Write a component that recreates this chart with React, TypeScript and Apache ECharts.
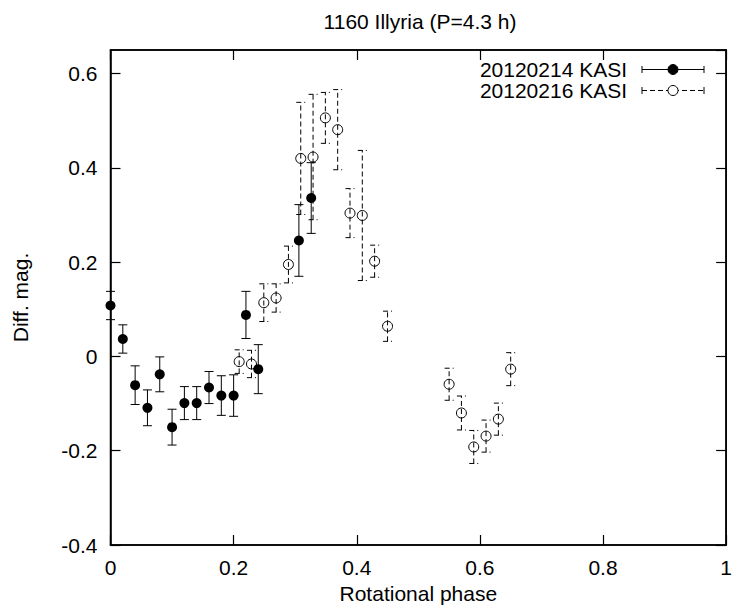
import React, { useEffect, useRef } from 'react';
import * as echarts from 'echarts';

// 20120214 KASI (filled circles, solid error bars)
const phase0214 = [0, 0.02, 0.04, 0.06, 0.08, 0.10, 0.12, 0.14, 0.16, 0.18, 0.20, 0.22, 0.24, 0.306, 0.326];
const mag0214 = [0.108, 0.037, -0.061, -0.109, -0.038, -0.150, -0.099, -0.099, -0.066, -0.083, -0.083, 0.088, -0.027, 0.246, 0.336];
const err0214 = [0.030, 0.030, 0.041, 0.038, 0.037, 0.038, 0.035, 0.035, 0.034, 0.042, 0.044, 0.050, 0.052, 0.076, 0.075];

// 20120216 KASI (open circles, dashed error bars)
const phase0216 = [0.209, 0.229, 0.249, 0.269, 0.289, 0.309, 0.329, 0.349, 0.369, 0.389, 0.409, 0.429, 0.450, 0.550, 0.570, 0.590, 0.610, 0.630, 0.650];
const mag0216 = [-0.011, -0.016, 0.114, 0.124, 0.195, 0.420, 0.423, 0.506, 0.481, 0.304, 0.299, 0.202, 0.064, -0.059, -0.120, -0.192, -0.169, -0.133, -0.027];
const err0216 = [0.025, 0.029, 0.040, 0.030, 0.039, 0.119, 0.133, 0.054, 0.085, 0.052, 0.138, 0.034, 0.032, 0.034, 0.036, 0.035, 0.034, 0.034, 0.035];

const seriesNames = ['20120214 KASI', '20120216 KASI'];
const titleText = '1160 Illyria (P=4.3 h)';
const xName = 'Rotational phase';
const yName = 'Diff. mag.';

const FONT = "'Liberation Sans', Arial, Helvetica, sans-serif";
const FS = 21;

const fmt = (v: number) => String(parseFloat(Number(v).toFixed(2)));

function errorBarSeries(phases: number[], mags: number[], errs: number[], dashed: boolean) {
  return {
    type: 'custom',
    clip: false,
    z: 2,
    data: phases.map((p, i) => [p, mags[i] - errs[i], mags[i] + errs[i]]),
    encode: { x: 0, y: [1, 2] },
    renderItem: (params: any, api: any) => {
      const x = api.value(0);
      const lo = api.coord([x, api.value(1)]);
      const hi = api.coord([x, api.value(2)]);
      const hw = 4.5;
      const style: any = { stroke: '#000', lineWidth: 1, fill: 'none' };
      if (dashed) style.lineDash = [5, 3];
      return {
        type: 'group',
        children: [
          { type: 'line', shape: { x1: lo[0], y1: lo[1], x2: hi[0], y2: hi[1] }, style },
          { type: 'line', shape: { x1: lo[0] - hw, y1: lo[1], x2: lo[0] + hw, y2: lo[1] }, style },
          { type: 'line', shape: { x1: hi[0] - hw, y1: hi[1], x2: hi[0] + hw, y2: hi[1] }, style },
        ],
      };
    },
  };
}

export default function App() {
  const ref = useRef<HTMLDivElement>(null);
  useEffect(() => {
    if (!ref.current) return;
    const chart = echarts.init(ref.current, null, { renderer: 'svg' });
    const axisCommon: any = {
      type: 'value',
      axisLine: { show: true, onZero: false, lineStyle: { color: '#000', width: 1.5 } },
      axisTick: { show: true, inside: true, length: 10, lineStyle: { color: '#000', width: 1.2 } },
      splitLine: { show: false },
    };
    const labelStyle = { fontSize: FS, color: '#000', fontFamily: FONT };
    const legendY = [69.5, 90.5];
    const legendGraphics: any[] = [];
    seriesNames.forEach((name, i) => {
      const y = legendY[i];
      const style: any = { stroke: '#000', lineWidth: 1 };
      if (i === 1) style.lineDash = [5, 3];
      legendGraphics.push(
        { type: 'text', x: 627, y, style: { text: name, align: 'right', verticalAlign: 'middle', font: `${FS}px ${FONT}`, fill: '#000' } },
        { type: 'line', shape: { x1: 642, y1: y, x2: 704, y2: y }, style },
        { type: 'line', shape: { x1: 642, y1: y - 3.5, x2: 642, y2: y + 3.5 }, style: { stroke: '#000', lineWidth: 1 } },
        { type: 'line', shape: { x1: 704, y1: y - 3.5, x2: 704, y2: y + 3.5 }, style: { stroke: '#000', lineWidth: 1 } },
        { type: 'circle', shape: { cx: 673, cy: y, r: 5 }, style: i === 0 ? { fill: '#000', stroke: '#000' } : { fill: '#fff', stroke: '#000', lineWidth: 1 } },
      );
    });
    chart.setOption({
      animation: false,
      backgroundColor: '#fff',
      grid: { left: 110.5, right: 5, top: 50, bottom: 71, show: true, borderColor: '#000', borderWidth: 1.5, backgroundColor: 'transparent' },
      graphic: [
        { type: 'text', x: 420, y: 21, style: { text: titleText, align: 'center', verticalAlign: 'middle', font: `${FS}px ${FONT}`, fill: '#000' } },
        ...legendGraphics,
      ],
      xAxis: [
        {
          ...axisCommon, position: 'bottom', min: 0, max: 1, interval: 0.2,
          axisLabel: { ...labelStyle, margin: 12, formatter: fmt },
          name: xName, nameLocation: 'middle', nameGap: 38,
          nameTextStyle: { ...labelStyle },
        },
        { ...axisCommon, position: 'top', min: 0, max: 1, interval: 0.2, axisLabel: { show: false } },
      ],
      yAxis: [
        {
          ...axisCommon, position: 'left', min: -0.4, max: 0.65, interval: 0.2,
          axisLabel: { ...labelStyle, margin: 13, showMaxLabel: false, formatter: fmt },
          name: yName, nameLocation: 'middle', nameGap: 80, nameRotate: 90,
          nameTextStyle: { ...labelStyle },
        },
        { ...axisCommon, position: 'right', min: -0.4, max: 0.65, interval: 0.2, axisLabel: { show: false } },
      ],
      series: [
        errorBarSeries(phase0214, mag0214, err0214, false),
        errorBarSeries(phase0216, mag0216, err0216, true),
        {
          name: seriesNames[0], type: 'scatter', clip: false, z: 3,
          symbol: 'circle', symbolSize: 10,
          itemStyle: { color: '#000', opacity: 1 },
          data: phase0214.map((p, i) => [p, mag0214[i]]),
        },
        {
          name: seriesNames[1], type: 'scatter', clip: false, z: 3,
          symbol: 'circle', symbolSize: 10,
          itemStyle: { color: 'rgba(0,0,0,0)', borderColor: '#000', borderWidth: 1, opacity: 1 },
          data: phase0216.map((p, i) => [p, mag0216[i]]),
        },
      ],
    });
    return () => chart.dispose();
  }, []);
  return <div ref={ref} style={{ position: 'fixed', left: 0, top: 0, width: 735, height: 616 }} />;
}
